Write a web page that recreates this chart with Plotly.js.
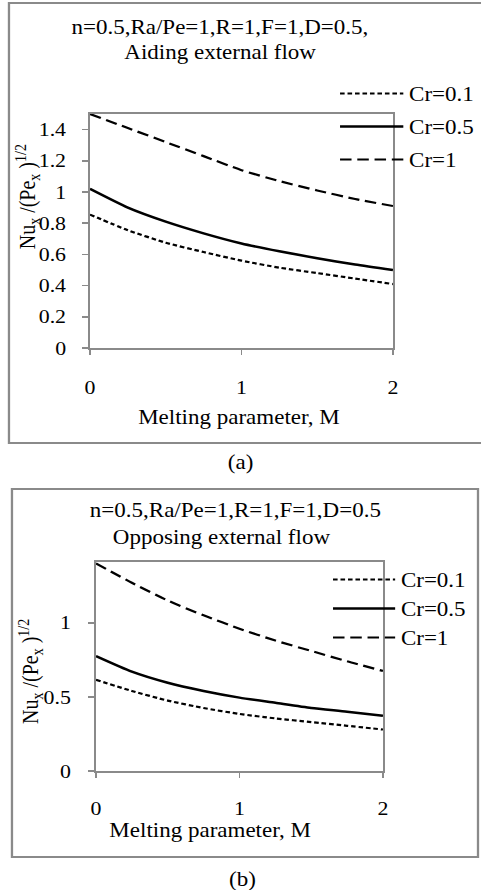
<!DOCTYPE html>
<html>
<head>
<meta charset="utf-8">
<script src="https://cdn.plot.ly/plotly-3.0.1.min.js"></script>
<style>
html,body{margin:0;padding:0;background:#fff;overflow:hidden;}
#wrap{width:418px;height:890px;transform:scaleX(1.1507);transform-origin:0 0;}
</style>
</head>
<body>
<div id="wrap"></div>
<script>
// ---- data ----
const M = [0, 0.25, 0.5, 0.75, 1, 1.25, 1.5, 1.75, 2];
const seriesNames = ["Cr=0.1", "Cr=0.5", "Cr=1"];
// (a) aiding external flow
const aidCr01 = [0.855, 0.755, 0.675, 0.615, 0.56, 0.515, 0.48, 0.445, 0.41];
const aidCr05 = [1.02, 0.90, 0.81, 0.735, 0.67, 0.62, 0.575, 0.535, 0.50];
const aidCr1  = [1.50, 1.41, 1.32, 1.23, 1.14, 1.07, 1.01, 0.955, 0.91];
// (b) opposing external flow
const oppCr01 = [0.615, 0.54, 0.475, 0.425, 0.385, 0.355, 0.33, 0.305, 0.28];
const oppCr05 = [0.775, 0.67, 0.595, 0.54, 0.495, 0.46, 0.425, 0.40, 0.372];
const oppCr1  = [1.40, 1.27, 1.15, 1.05, 0.96, 0.88, 0.81, 0.74, 0.675];
// ticks
const xTickVals = [0, 1, 2];
const xTickText = ["0", "1", "2"];
const yTickValsA = [0, 0.2, 0.4, 0.6, 0.8, 1, 1.2, 1.4];
const yTickTextA = ["0", "0.2", "0.4", "0.6", "0.8", "1", "1.2", "1.4"];
const yTickValsB = [0, 0.5, 1];
const yTickTextB = ["0", "0.5", "1"];

// ---- styles ----
const W = 418, H = 890;
const FONT = "Liberation Serif";
const GRAY = "#8a8a8a";
const dashes = ["4px,2.5px", "solid", "10px,5px"];
const widths = [2.2, 2.5, 2.2];

function px(x){return x/W;}
function py(y){return 1 - y/H;}

function mk(x, y, i, xa, ya, lg){
  return {x:x, y:y, name:seriesNames[i], type:"scatter", mode:"lines",
    line:{color:"#000", width:widths[i], dash:dashes[i], shape:"spline", smoothing:0.6},
    xaxis:xa, yaxis:ya, legend:lg, legendgroup:lg+i, showlegend:true};
}

const traces = [
  mk(M, aidCr01, 0, "x", "y", "legend"),
  mk(M, aidCr05, 1, "x", "y", "legend"),
  mk(M, aidCr1, 2, "x", "y", "legend"),
  mk(M, oppCr01, 0, "x2", "y2", "legend2"),
  mk(M, oppCr05, 1, "x2", "y2", "legend2"),
  mk(M, oppCr1, 2, "x2", "y2", "legend2")
];

function xax(dom, anchor, standoff){
  return {domain:dom, anchor:anchor, range:[0,2], tickmode:"array", tickvals:xTickVals, ticktext:xTickText,
    ticks:"outside", ticklen:5, tickwidth:1.5, tickcolor:GRAY, showline:true, linecolor:GRAY, linewidth:2,
    mirror:true, showgrid:false, zeroline:false, ticklabelstandoff:standoff,
    tickfont:{family:FONT, size:19, color:"#000"}, fixedrange:true};
}
function yax(dom, anchor, range, tv, tt, standoff){
  return {domain:dom, anchor:anchor, range:range, tickmode:"array", tickvals:tv, ticktext:tt,
    ticks:"outside", ticklen:5, tickwidth:1.5, tickcolor:GRAY, showline:true, linecolor:GRAY, linewidth:2,
    mirror:true, showgrid:false, zeroline:false, ticklabelstandoff:standoff,
    tickfont:{family:FONT, size:19, color:"#000"}, fixedrange:true};
}

function ann(text, x, y, opts){
  return Object.assign({text:text, xref:"paper", yref:"paper", x:px(x), y:py(y),
    xanchor:"center", yanchor:"middle", showarrow:false,
    font:{family:FONT, size:20, color:"#000"}}, opts||{});
}

const ytitle = "Nu<sub>x</sub> /(Pe<sub>x</sub> )<sup>1/2</sup>";

const layout = {
  width:W, height:H,
  margin:{l:0, r:0, t:0, b:0},
  paper_bgcolor:"#fff", plot_bgcolor:"#fff",
  font:{family:FONT, size:20, color:"#000"},
  xaxis: xax([px(78.2), px(341.5)], "y", 16),
  yaxis: yax([py(348), py(114)], "x", [0,1.5], yTickValsA, yTickTextA, 10),
  xaxis2: xax([px(83.4), px(332.8)], "y2", 14),
  yaxis2: yax([py(771), py(562)], "x2", [0,1.41], yTickValsB, yTickTextB, 11),
  legend:{x:px(290.5), y:py(74), xanchor:"left", yanchor:"top", bgcolor:"rgba(0,0,0,0)",
    itemwidth:55, tracegroupgap:4, font:{family:FONT, size:20, color:"#000"}},
  legend2:{x:px(284.4), y:py(560), xanchor:"left", yanchor:"top", bgcolor:"rgba(0,0,0,0)",
    itemwidth:54, tracegroupgap:0, font:{family:FONT, size:20, color:"#000"}},
  shapes:[
    {type:"rect", xref:"paper", yref:"paper", x0:px(7.8), x1:1.01, y0:py(443), y1:py(3),
      line:{color:GRAY, width:2}, fillcolor:"rgba(0,0,0,0)", layer:"below"},
    {type:"rect", xref:"paper", yref:"paper", x0:px(10.4), x1:px(415.4), y0:py(857), y1:py(489),
      line:{color:GRAY, width:2}, fillcolor:"rgba(0,0,0,0)", layer:"below"}
  ],
  annotations:[
    ann("n=0.5,Ra/Pe=1,R=1,F=1,D=0.5,", 190.8, 27),
    ann("Aiding external flow", 191.8, 53),
    ann(ytitle, 24.3, 197, {textangle:-90}),
    ann("Melting parameter, M", 207, 417),
    ann("(a)", 208.6, 463),
    ann("n=0.5,Ra/Pe=1,R=1,F=1,D=0.5", 204.2, 510),
    ann("Opposing external flow", 192, 537),
    ann(ytitle, 27, 672, {textangle:-90}),
    ann("Melting parameter, M", 182.5, 830),
    ann("(b)", 210.3, 879)
  ]
};

Plotly.newPlot("wrap", traces, layout, {displayModeBar:false, staticPlot:true});
</script>
</body>
</html>
